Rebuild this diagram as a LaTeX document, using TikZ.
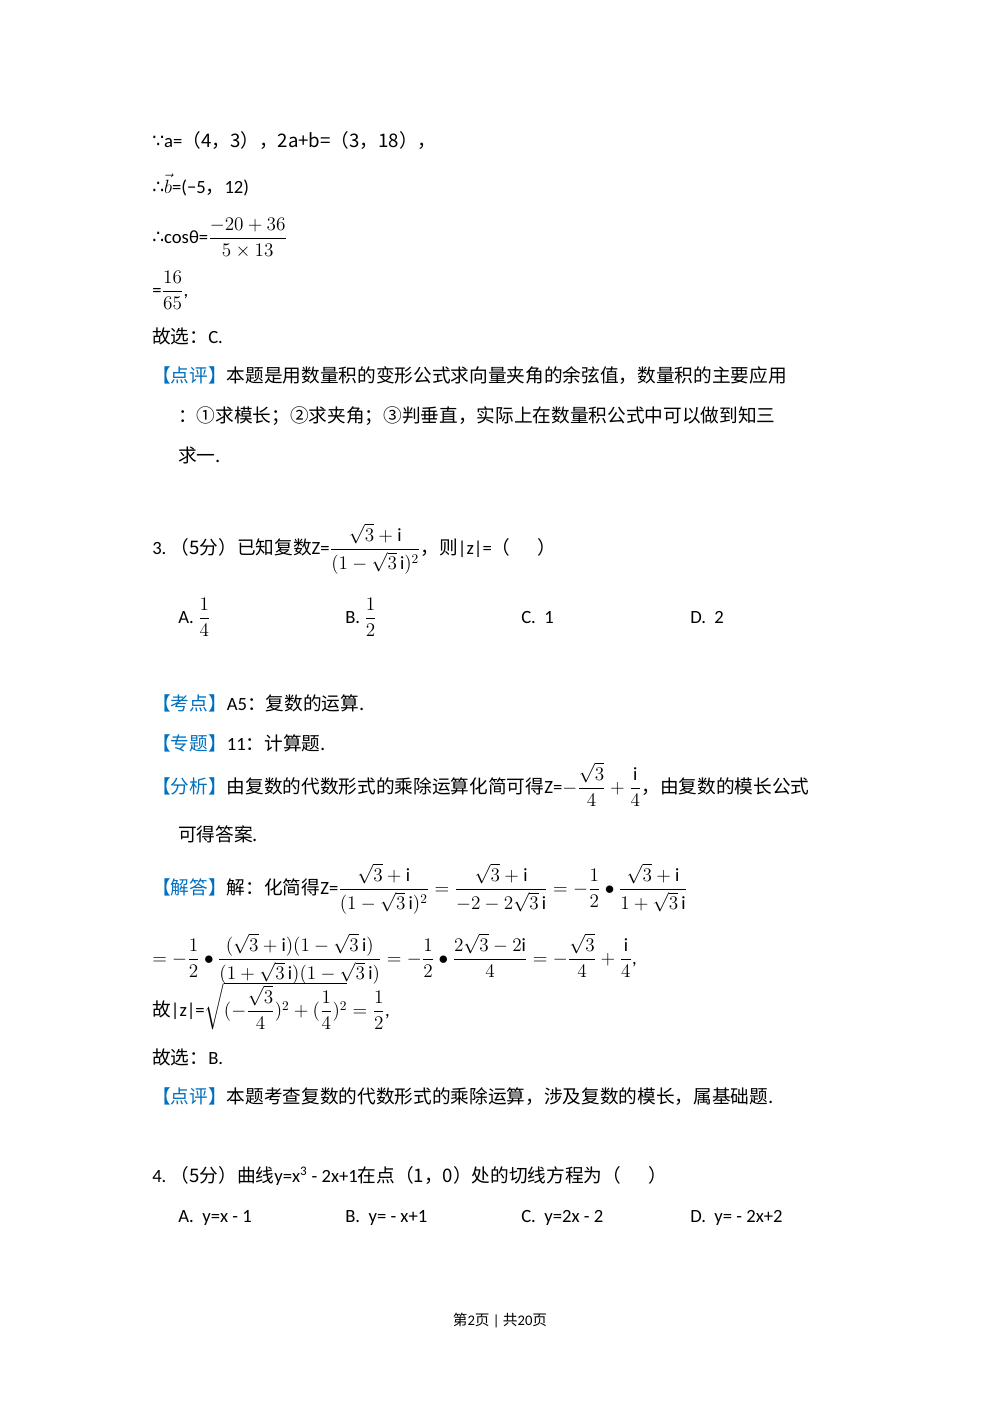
\documentclass[tikz,border=0pt]{standalone}
\usepackage{amsmath}
\usepackage{fontspec}
\setmainfont{Carlito}
\newfontfamily\cjk{Noto Sans CJK SC}
\newfontfamily\dv{DejaVu Sans}
\definecolor{tagblue}{RGB}{0,112,192}
\newcommand{\tg}[1]{{\color{tagblue}【#1】}}
\begin{document}
\begin{tikzpicture}[x=0.75pt,y=-0.75pt,
  t/.style={anchor=base west,inner sep=0pt,font=\fontsize{14}{17}\selectfont}]
\useasboundingbox (0,0) rectangle (1000,1414);
\fill[white] (0,0) rectangle (1000,1414);
\node[t] (l1) at (152,147) {{\dv ∵}a=\cjk（4，3），2a+b=（3，18），};
\node[t] (l2) at (152,193) {{\dv ∴}$\vec{b}$=(−5{\cjk，}12)};
\node[t] (l3) at (152,243) {{\dv ∴}cosθ=$\dfrac{-20+36}{5\times13}$};
\node[t] (l4) at (152,296) {=$\dfrac{16}{65}$,};
\node[t] (l5) at (152,343) {\cjk 故选：\rmfamily C.};
\node[t] (l6) at (152,382) {\cjk\tg{点评}本题是用数量积的变形公式求向量夹角的余弦值，数量积的主要应用};
\node[t] (l7) at (178,422) {\cjk ：①求模长；②求夹角；③判垂直，实际上在数量积公式中可以做到知三};
\node[t] (l8) at (178,462) {\cjk 求一.};
\node[t] (q3) at (152,554) {3.\ \cjk（5分）已知复数\rmfamily Z=$\dfrac{\sqrt{3}+\mathrm{i}}{(1-\sqrt{3}\,\mathrm{i})^2}$\cjk，则\rmfamily|z|=\cjk（\quad\ \ ）};
\node[t] (a3) at (178,623) {A.\ $\dfrac14$};
\node[t] (b3) at (345,623) {B.\ $\dfrac12$};
\node[t] (c3) at (521,623) {C.\ \ 1};
\node[t] (d3) at (690,623) {D.\ \ 2};
\node[t] (k1) at (152,710) {\cjk\tg{考点}\rmfamily A5\cjk：复数的运算.};
\node[t] (k2) at (152,750) {\cjk\tg{专题}\rmfamily 11\cjk：计算题.};
\node[t] (k3) at (152,793) {\cjk\tg{分析}由复数的代数形式的乘除运算化简可得\rmfamily Z=$-\dfrac{\sqrt3}{4}+\dfrac{\mathrm i}{4}$\cjk，由复数的模长公式};
\node[t] (k4) at (178,841) {\cjk 可得答案.};
\node[t] (s1) at (152,894) {\cjk\tg{解答}解：化简得\rmfamily Z=$\dfrac{\sqrt3+\mathrm i}{(1-\sqrt3\,\mathrm i)^2}=\dfrac{\sqrt3+\mathrm i}{-2-2\sqrt3\,\mathrm i}=-\dfrac12\bullet\dfrac{\sqrt3+\mathrm i}{1+\sqrt3\,\mathrm i}$};
\node[t] (s2) at (152,964) {$=-\dfrac12\bullet\dfrac{(\sqrt3+\mathrm i)(1-\sqrt3\,\mathrm i)}{(1+\sqrt3\,\mathrm i)(1-\sqrt3\,\mathrm i)}=-\dfrac12\bullet\dfrac{2\sqrt3-2\mathrm i}{4}=-\dfrac{\sqrt3}{4}+\dfrac{\mathrm i}{4}$,};
\node[t] (s3) at (152,1016) {\cjk 故\rmfamily|z|=$\sqrt{(-\dfrac{\sqrt3}{4})^2+(\dfrac14)^2}=\dfrac12$,};
\node[t] (s4) at (152,1064) {\cjk 故选：\rmfamily B.};
\node[t] (s5) at (152,1103) {\cjk\tg{点评}本题考查复数的代数形式的乘除运算，涉及复数的模长，属基础题.};
\node[t] (q4) at (152,1182) {4.\ \cjk（5分）曲线\rmfamily y=x\textsuperscript{3} - 2x+1\cjk 在点（1，0）处的切线方程为（\quad\ \ ）};
\node[t] (a4) at (178,1222) {A.\ \ y=x - 1};
\node[t] (b4) at (345,1222) {B.\ \ y= - x+1};
\node[t] (c4) at (521,1222) {C.\ \ y=2x - 2};
\node[t] (d4) at (690,1222) {D.\ \ y= - 2x+2};
\node[anchor=base,inner sep=0pt,font=\fontsize{11}{13}\selectfont] (ft) at (500,1325) {\cjk 第\rmfamily 2\cjk 页 \rmfamily| \cjk 共\rmfamily 20\cjk 页};
\end{tikzpicture}
\end{document}
